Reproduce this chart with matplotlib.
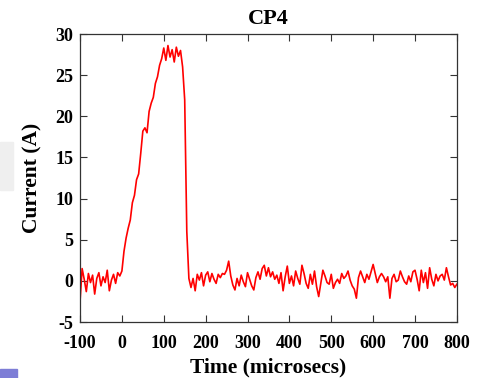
import numpy as np
import matplotlib
matplotlib.use("Agg")
import matplotlib.pyplot as plt
from matplotlib.patches import Rectangle

# time axis, 5 microsec steps
t_start, t_stop, t_step = -100, 800, 5

# values (Amps)
pre_trigger = [-2.5, 1.5, 0.2, -1.3, 0.9, -0.2, 0.7, -1.6, 0.3, 1.0, -0.6,
               0.5, -0.2, 1.3, -1.2, 0.1, 0.8, -0.3, 1.0, 0.6, 1.2]  # -100..0
ramp = [3.6, 5.2, 6.4, 7.4, 9.5, 10.4, 12.3, 13.0, 15.5, 18.2, 18.6, 18.0,
        20.6, 21.6, 22.3, 24.0, 24.8, 26.2, 27.0]  # 5..95
flat_top = [28.3, 26.8, 28.6, 27.2, 28.1, 26.6, 28.4, 27.3, 28.0, 26.0]  # 100..145
fall = [22.0, 6.0, 0.3]  # 150..160
tail_a = [-0.8, 0.3, -1.2, 0.8, 0.1, 1.0, -0.6, 0.7, 1.1, -0.1, 0.9, 0.2, -0.3,
          0.8, 0.4, 0.9, 0.8, 1.3, 2.4, 0.6, -0.5, -1.1, 0.3, -0.6, 0.7, -0.1,
          -0.7, 1.0, 0.2, -0.6, -1.1, 0.4, 1.1, 0.2, 1.5, 1.9, 0.6, 1.6, 0.5,
          1.1, 0.2, 0.7, -0.3, 1.0, -1.2, 0.5, 1.8, -0.3, 0.6, -0.6, 1.2, 0.3,
          -0.4, 1.9, 0.9, -0.3, -0.9, 0.8, -0.4, 1.2, -0.7, -1.9, -0.3, 1.3,
          0.6, -0.2]  # 165..490
tail_b = [-0.4, 0.8, -0.9, -0.2, 0.2, -0.3, 0.9, 0.3, 0.6, 1.2, 0.1, -0.6,
          -1.0, -2.1, 0.4, 1.2, 0.5, -0.2, 0.8, 0.2, 1.1, 2.0, 0.9, -0.2, 0.5,
          0.9, 0.5, -0.1, 0.5, -2.1, 0.3, 0.8, -0.1, 0.1, 1.2, 0.5, -0.1, -0.4,
          0.6, -0.1, 1.1, 1.3, 0.2, -1.2, 1.3, -0.2, 1.0, -0.9, 1.6, 0.2, -0.6,
          0.8, 0.0, 0.6, 0.8, 0.1, 1.6, 0.5, -0.5, -0.3, -0.8, -0.4]  # 495..800

current = np.array(pre_trigger + ramp + flat_top + fall + tail_a + tail_b)
time = np.arange(t_start, t_stop + t_step, t_step)

x_ticks = list(range(-100, 801, 100))
y_ticks = list(range(-5, 31, 5))

plt.rcParams['font.family'] = ['Liberation Serif', 'DejaVu Serif']
plt.rcParams['font.weight'] = 'bold'
plt.rcParams['axes.unicode_minus'] = False

fig = plt.figure(figsize=(4.85, 3.78), dpi=100)
ax = fig.add_axes([0.165, 0.148, 0.777, 0.762])

ax.plot(time, current, color='#ff0000', linewidth=1.2)

ax.set_xlim(-100, 800)
ax.set_ylim(-5, 30)
ax.set_xticks(x_ticks)
ax.set_yticks(y_ticks)
ax.tick_params(direction='in', top=True, right=True, length=5, width=0.8,
               labelsize=13, color='#333333')
ax.tick_params(axis='x', pad=9)
ax.tick_params(axis='y', pad=5)
for lbl in ax.get_xticklabels() + ax.get_yticklabels():
    lbl.set_fontweight('bold')
for sp in ax.spines.values():
    sp.set_color('#333333')
    sp.set_linewidth(0.9)

ax.set_title("CP4", fontsize=16, fontweight='bold', pad=7)
ax.set_xlabel("Time (microsecs)", fontsize=15.5, fontweight='bold', labelpad=4)
ax.set_ylabel("Current (A)", fontsize=15.5, fontweight='bold', labelpad=9)

# leftover bits of the slide around the figure
fig.patches.append(Rectangle((0, 1 - 190 / 378), 13 / 485, 48 / 378,
                             transform=fig.transFigure, color='#efefef', zorder=0))
fig.patches.append(Rectangle((0, 0), 17 / 485, 9 / 378,
                             transform=fig.transFigure, color='#7d7dd6', zorder=0))

fig.savefig("out.png", dpi=100)
